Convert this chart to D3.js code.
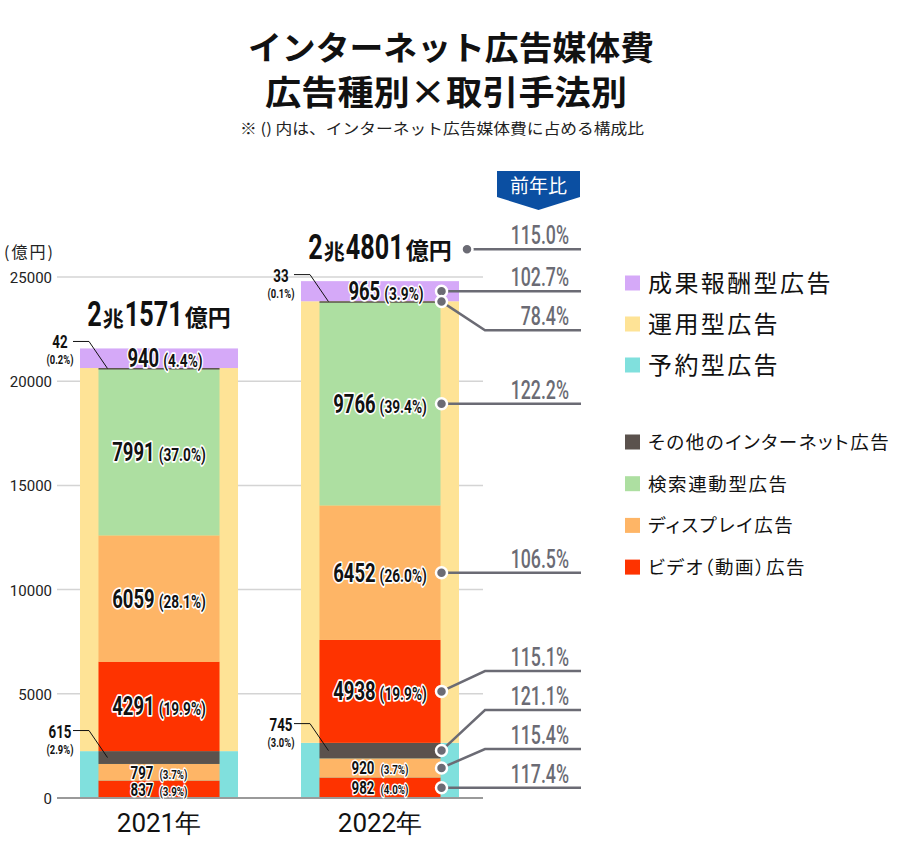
<!DOCTYPE html>
<html><head><meta charset="utf-8">
<script src="https://cdn.jsdelivr.net/npm/d3@7"></script>
<style>body{margin:0;background:#fff} svg{display:block} .palt{font-feature-settings:"palt" 1}</style>
</head><body><div id="chart"></div>
<script>
// ---------- DATA ----------
const years = ["2021年", "2022年"];
const totals = [21571, 24801];
const yTicks = [0, 5000, 10000, 15000, 20000, 25000];

// 予約型広告 (reserved)
const resVideo = [837, 982],   resVideoPct = [3.9, 4.0];
const resDisplay = [797, 920], resDisplayPct = [3.7, 3.7];
const resOther = [615, 745],   resOtherPct = [2.9, 3.0];
// 運用型広告 (programmatic)
const progVideo = [4291, 4938],   progVideoPct = [19.9, 19.9];
const progDisplay = [6059, 6452], progDisplayPct = [28.1, 26.0];
const progSearch = [7991, 9766],  progSearchPct = [37.0, 39.4];
const progOther = [42, 33],       progOtherPct = [0.2, 0.1];
// 成果報酬型広告 (performance)
const perf = [940, 965], perfPct = [4.4, 3.9];

// 前年比 (2022 vs 2021)
const yoyKeys = ["total", "perf", "progOther", "progSearch", "progDisplay", "progVideo", "resOther", "resDisplay", "resVideo"];
const yoyValues = ["115.0%", "102.7%", "78.4%", "122.2%", "106.5%", "115.1%", "121.1%", "115.4%", "117.4%"];

const legTop = ["成果報酬型広告", "運用型広告", "予約型広告"];
const legBottom = ["その他のインターネット広告", "検索連動型広告", "ディスプレイ広告", "ビデオ（動画）広告"];

// ---------- STYLE ----------
const colors = {
  "成果報酬型広告": "#d5a9f8", "運用型広告": "#fee396", "予約型広告": "#80e0dd",
  "その他のインターネット広告": "#5b524d", "検索連動型広告": "#addfa1",
  "ディスプレイ広告": "#feb566", "ビデオ（動画）広告": "#fe3300"
};
const NUM = "Roboto, 'Liberation Sans', Arial, sans-serif";
const JP = "'Noto Sans CJK JP', 'Noto Sans', sans-serif";
const GRAY = "#6b6b74";

// ---------- SEGMENTS ----------
const segDefs = [
  {key: "resVideo", method: "予約型広告", ch: "ビデオ（動画）広告", vals: resVideo, pcts: resVideoPct},
  {key: "resDisplay", method: "予約型広告", ch: "ディスプレイ広告", vals: resDisplay, pcts: resDisplayPct},
  {key: "resOther", method: "予約型広告", ch: "その他のインターネット広告", vals: resOther, pcts: resOtherPct},
  {key: "progVideo", method: "運用型広告", ch: "ビデオ（動画）広告", vals: progVideo, pcts: progVideoPct},
  {key: "progDisplay", method: "運用型広告", ch: "ディスプレイ広告", vals: progDisplay, pcts: progDisplayPct},
  {key: "progSearch", method: "運用型広告", ch: "検索連動型広告", vals: progSearch, pcts: progSearchPct},
  {key: "progOther", method: "運用型広告", ch: "その他のインターネット広告", vals: progOther, pcts: progOtherPct},
  {key: "perf", method: "成果報酬型広告", ch: null, vals: perf, pcts: perfPct}
];
const rows = years.map((y, i) => {
  const r = {year: y};
  segDefs.forEach(s => r[s.key] = s.vals[i]);
  return r;
});
const innerStack = d3.stack().keys(segDefs.map(s => s.key))(rows);
const methodRows = years.map((y, i) => ({
  year: y,
  "予約型広告": resVideo[i] + resDisplay[i] + resOther[i],
  "運用型広告": progVideo[i] + progDisplay[i] + progSearch[i] + progOther[i],
  "成果報酬型広告": perf[i]
}));
const outerStack = d3.stack().keys(["予約型広告", "運用型広告", "成果報酬型広告"])(methodRows);

// ---------- SVG ----------
const W = 900, H = 858;
const svg = d3.select("#chart").append("svg").attr("width", W).attr("height", H);

const x = d3.scaleBand().domain(years).range([80, 459]).paddingInner(0.285);
const y = d3.scaleLinear().domain([0, 25000]).range([798, 277]);
const bw = x.bandwidth();
const inset = bw * 0.117;
const gridX0 = 57, gridX1 = 483;

function rich(parent, px, py, pieces, anchor, halo) {
  const g = parent.append("g");
  let cx = 0;
  pieces.forEach(p => {
    const t = g.append("text")
      .attr("font-family", p.font || NUM)
      .attr("font-size", p.size)
      .attr("font-weight", p.weight || 700)
      .attr("fill", p.fill || "#111")
      .text(p.text);
    if (halo) t.attr("stroke", "#fff").attr("stroke-width", halo).attr("stroke-linejoin", "round").attr("paint-order", "stroke");
    const sx = p.sx || 1;
    const w = t.node().getComputedTextLength() * sx;
    t.attr("transform", `translate(${cx},0) scale(${sx},1)`);
    cx += w + (p.gap || 0);
  });
  const off = anchor === "middle" ? -cx / 2 : anchor === "end" ? -cx : 0;
  g.attr("transform", `translate(${px + off},${py})`);
  return cx;
}

// Title
svg.append("text").attr("x", 451).attr("y", 60).attr("text-anchor", "middle")
  .attr("font-family", JP).attr("font-weight", 700).attr("font-size", 33)
  .attr("textLength", 406).attr("lengthAdjust", "spacingAndGlyphs")
  .attr("fill", "#111").text("インターネット広告媒体費");
svg.append("text").attr("x", 446).attr("y", 105).attr("text-anchor", "middle")
  .attr("font-family", JP).attr("font-weight", 700).attr("font-size", 34)
  .attr("textLength", 362).attr("lengthAdjust", "spacingAndGlyphs")
  .attr("fill", "#111").text("広告種別×取引手法別");
svg.append("text").attr("x", 442).attr("y", 134).attr("text-anchor", "middle")
  .attr("font-family", JP).attr("font-size", 15).attr("fill", "#222")
  .attr("textLength", 404).attr("lengthAdjust", "spacingAndGlyphs")
  .text("※ () 内は、インターネット広告媒体費に占める構成比");

// unit
svg.append("text").attr("x", 4).attr("y", 258).attr("font-family", JP).attr("font-size", 16)
  .attr("letter-spacing", 2).attr("fill", "#222").text("(億円)");

// grid
const grid = svg.append("g");
yTicks.filter(t => t > 0).forEach(t => {
  grid.append("line").attr("x1", gridX0).attr("x2", gridX1).attr("y1", y(t)).attr("y2", y(t))
    .attr("stroke", "#d4d4d4").attr("stroke-width", 1.5);
});
const yAxis = svg.append("g").attr("transform", `translate(${gridX0 - 5},0)`)
  .call(d3.axisLeft(y).tickValues(yTicks).tickSize(0).tickPadding(0).tickFormat(d3.format("d")));
yAxis.select(".domain").remove();
yAxis.selectAll("text").attr("font-family", NUM).attr("font-size", 15).attr("fill", "#222").attr("dy", "0.36em");

// outer bars
outerStack.forEach(layer => {
  svg.append("g").selectAll("rect").data(layer).join("rect")
    .attr("x", d => x(d.data.year)).attr("width", bw)
    .attr("y", d => y(d[1])).attr("height", d => y(d[0]) - y(d[1]))
    .attr("fill", colors[layer.key]);
});
// inner bars
innerStack.forEach((layer, li) => {
  const def = segDefs[li];
  if (def.key === "perf") return;
  svg.append("g").selectAll("rect").data(layer).join("rect")
    .attr("x", d => x(d.data.year) + inset).attr("width", bw - 2 * inset)
    .attr("y", d => y(d[1])).attr("height", d => Math.max(1.5, y(d[0]) - y(d[1])))
    .attr("fill", colors[def.ch]);
});

// baseline
svg.append("line").attr("x1", gridX0).attr("x2", gridX1).attr("y1", y(0)).attr("y2", y(0))
  .attr("stroke", "#9a9a9a").attr("stroke-width", 2);

// x labels
years.forEach(yr => {
  svg.append("text").attr("x", x(yr) + bw / 2).attr("y", 832).attr("text-anchor", "middle")
    .attr("font-family", NUM).attr("font-size", 26).attr("fill", "#111").text(yr);
});

// segment labels
const labels = svg.append("g");
innerStack.forEach((layer, li) => {
  const def = segDefs[li];
  layer.forEach((d, i) => {
    const mid = (y(d[0]) + y(d[1])) / 2;
    const cx = x(years[i]) + bw / 2;
    const pctTxt = `(${def.pcts[i].toFixed(1)}%)`;
    if (def.ch === "その他のインターネット広告") {
      const lx = x(years[i]) - 20;
      rich(labels, lx, mid - 20, [{text: String(def.vals[i]), size: 18, sx: 0.74}], "middle", 0);
      rich(labels, lx, mid - 4, [{text: pctTxt, size: 12.5, sx: 0.75}], "middle", 0);
      labels.append("path")
        .attr("d", `M${lx + 13},${mid - 27}H${lx + 29}L${x(years[i]) + inset + 9},${mid}`)
        .attr("fill", "none").attr("stroke", "#111").attr("stroke-width", 1);
    } else {
      const small = def.method === "予約型広告";
      const nSize = small ? 18 : 25, pSize = small ? 13.5 : 19;
      const shift = def.key === "perf" ? 6 : 0;
      rich(labels, cx + shift, mid + (small ? 6.5 : 9), [
        {text: String(def.vals[i]), size: nSize, sx: 0.74, gap: small ? 6 : 4},
        {text: pctTxt, size: pSize, sx: 0.72}
      ], "middle", small ? 3 : 3.5);
    }
  });
});

// totals
const totalPos = [];
totals.forEach((t, i) => {
  const cx = x(years[i]) + bw / 2;
  const by = y(t) - 22;
  const man = Math.floor(t / 10000), oku = String(t % 10000);
  rich(labels, cx, by, [
    {text: String(man), size: 35, sx: 0.72, gap: 1},
    {text: "兆", size: 21, font: JP, weight: 700, gap: 1},
    {text: oku, size: 35, sx: 0.72, gap: 2},
    {text: "億円", size: 23, font: JP, weight: 700}
  ], "middle", 0);
  totalPos.push({x: x(years[i]) + bw + 8, y: y(t) - 32});
});

// 前年比 badge
svg.append("path").attr("d", "M497,171H580V197L538.5,210L497,197Z").attr("fill", "#0b4fa2");
svg.append("text").attr("x", 538.5).attr("y", 193).attr("text-anchor", "middle")
  .attr("font-family", JP).attr("font-size", 19).attr("fill", "#fff").text("前年比");

// YoY annotations (2022 bar)
const i22 = 1;
const innerRight = x(years[i22]) + bw - inset + 1;
const ann = yoyKeys.map((k, j) => {
  if (k === "total") return {dx: totalPos[i22].x, dy: totalPos[i22].y, txt: yoyValues[j]};
  const li = segDefs.findIndex(s => s.key === k);
  const d = innerStack[li][i22];
  return {dx: innerRight, dy: (y(d[0]) + y(d[1])) / 2, txt: yoyValues[j]};
});
const gap = 39, bottom = y(0) - 10;
ann.forEach((a, j) => { a.ly = j === 0 ? a.dy : Math.max(a.dy, ann[j - 1].ly + gap); });
for (let j = ann.length - 1; j >= 0; j--) {
  ann[j].ly = j === ann.length - 1 ? Math.min(ann[j].ly, bottom) : Math.min(ann[j].ly, ann[j + 1].ly - gap);
}
const elbowX = 485, endX = 581;
const annG = svg.append("g");
ann.forEach(a => {
  const path = Math.abs(a.ly - a.dy) < 0.5
    ? `M${a.dx},${a.dy}H${endX}`
    : `M${a.dx},${a.dy}L${elbowX},${a.ly}H${endX}`;
  annG.append("path").attr("d", path).attr("fill", "none").attr("stroke", GRAY).attr("stroke-width", 2.5);
});
ann.forEach(a => {
  annG.append("circle").attr("cx", a.dx).attr("cy", a.dy).attr("r", 5.5)
    .attr("fill", GRAY).attr("stroke", "#fff").attr("stroke-width", 2.5);
  rich(annG, 569, a.ly - 5, [{text: a.txt, size: 25, weight: 500, sx: 0.71, fill: GRAY}], "end", 0);
});

// legend
const leg = svg.append("g");
legTop.forEach((n, i) => {
  const cy = 283 + i * 41;
  leg.append("rect").attr("x", 625).attr("y", cy - 7.5).attr("width", 15).attr("height", 15).attr("fill", colors[n]);
  leg.append("text").attr("class", "palt").attr("x", 648).attr("y", cy + 9).attr("font-family", JP).attr("font-size", 24)
    .attr("letter-spacing", 2.4).attr("fill", "#111").text(n);
});
legBottom.forEach((n, i) => {
  const cy = 442 + i * 41.7;
  leg.append("rect").attr("x", 625).attr("y", cy - 7.5).attr("width", 15).attr("height", 15).attr("fill", colors[n]);
  leg.append("text").attr("class", "palt").attr("x", 648).attr("y", cy + 7).attr("font-family", JP).attr("font-size", 18.5)
    .attr("letter-spacing", 1.6).attr("fill", "#111").text(n);
});
</script></body></html>
